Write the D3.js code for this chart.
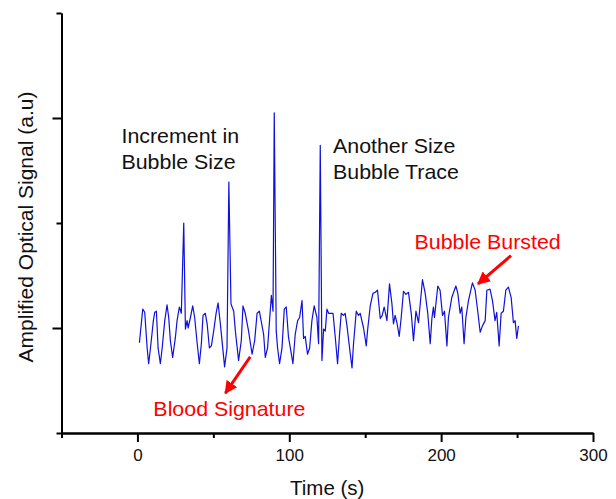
<!DOCTYPE html>
<html>
<head>
<meta charset="utf-8">
<script src="https://cdn.jsdelivr.net/npm/d3@7"></script>
<style>
  body { margin: 0; background: #fff; }
  text { font-family: Arial, "Liberation Sans", sans-serif; }
</style>
</head>
<body>
<div id="chart"></div>
<script>
// time (s)
const times = [1.3, 3.5, 4.8, 6.4, 7.4, 8.6, 10.5, 11.4, 12.5, 13.6, 15.1, 16.3, 18, 19.5, 20.6, 21.7, 23.2, 25, 26.1, 27.6,
  28.9, 30.5, 31.6, 32.7, 33.4, 34.9, 36.4, 37.7, 39.3, 40.8, 42.1, 43.2, 44.7, 45.9, 47.4, 48.7, 50.2, 51.8, 53.1, 54.6,
  55.7, 57.4, 59, 60.2, 61.6, 63.4, 64.5, 66.6, 68.4, 69.5, 71, 73.2, 75.5, 77.2, 78.8, 80.3, 83.1, 84.2, 85.7, 87,
  88.2, 89.3, 90.1, 91.4, 92.3, 93.6, 95.2, 96.7, 98, 99.5, 100.7, 102.4, 103.9, 105.5, 106.8, 108.4, 109.4, 110.5, 112, 113.4,
  114.9, 116.4, 118.2, 119.3, 120.4, 121.5, 122.6, 123.7, 124.8, 125.9, 127.4, 128.8, 130.3, 131.8, 133.1, 134.2, 135.7, 136.8, 138, 139.7,
  141.3, 142.3, 144.1, 145.6, 146.7, 148.9, 150.7, 151.5, 153.3, 155.1, 156.6, 158.1, 159.9, 161.2, 162.5, 164.3, 166, 167.6, 168.6, 169.7,
  170.9, 172.4, 173.7, 175.2, 176.8, 178.5, 180.3, 181.8, 183.4, 185.1, 187.7, 189.5, 191.2, 192.8, 193.9, 194.9, 195.6, 197.8, 199.3, 200.9,
  202.2, 203.8, 204.8, 207, 209.7, 211, 212.5, 213.6, 215.1, 216.3, 218, 220.6, 222.4, 224.1, 225.7, 227.2, 229, 230.1, 232.2, 233.8,
  235.5, 236.6, 238.2, 239.5, 241, 242.6, 244.3, 246.1, 247.6, 248.7, 249.8, 250.9]

// amplified optical signal (a.u)
const signal = [86, 118, 115, 81, 66, 81, 107, 115, 116, 81, 66, 81, 107, 122, 110, 88, 72, 91, 107, 120,
  114, 200, 99, 107, 100, 110, 121, 110, 86, 66, 85, 112, 114, 104, 81, 83, 97, 114, 124, 104,
  88, 63, 81, 239, 123, 116, 97, 69, 88, 121, 114, 97, 75, 88, 114, 116, 94, 72, 81, 107,
  131, 116, 305, 97, 81, 66, 81, 118, 120, 91, 81, 66, 94, 107, 110, 126, 90, 92, 75, 81,
  107, 121, 110, 85, 274, 69, 99, 97, 118, 114, 114, 114, 91, 66, 94, 114, 112, 114, 102, 81,
  62, 85, 116, 112, 114, 100, 83, 97, 121, 133, 134, 136, 109, 112, 120, 107, 142, 123, 104, 112,
  105, 92, 110, 135, 132, 134, 114, 88, 116, 105, 146, 133, 114, 85, 109, 120, 110, 140, 136, 112,
  116, 83, 110, 129, 140, 133, 114, 120, 85, 110, 126, 143, 136, 116, 96, 102, 107, 136, 137, 126,
  107, 115, 83, 114, 116, 136, 139, 129, 105, 107, 90, 102]

const xMajor = [0, 100, 200, 300]
const xMinor = [-50, 50, 150, 250]
const yMajor = [100, 300]
const yMinor = [0, 200, 400]

const width = 616
const height = 499
const margin = {left: 61.5, right: 23, top: 13, bottom: 66}

const svg = d3.select("#chart")
    .append("svg")
    .attr("width", width)
    .attr("height", height)

const x = d3.scaleLinear()
    .domain([-50, 300])
    .range([margin.left, width - margin.right])

const y = d3.scaleLinear()
    .domain([0, 400])
    .range([height - margin.bottom, margin.top])

// axes
const gx = svg.append("g")
    .attr("transform", `translate(0,${y(0)})`)

gx.append("g")
    .call(d3.axisBottom(x).tickValues(xMinor).tickSize(5).tickFormat("").tickSizeOuter(0))
gx.append("g")
    .call(d3.axisBottom(x).tickValues(xMajor).tickSize(9).tickPadding(7).tickSizeOuter(0))

const gy = svg.append("g")
    .attr("transform", `translate(${x(-50)},0)`)

gy.append("g")
    .call(d3.axisLeft(y).tickValues(yMinor).tickSize(5).tickFormat("").tickSizeOuter(0))
gy.append("g")
    .call(d3.axisLeft(y).tickValues(yMajor).tickSize(9).tickFormat("").tickSizeOuter(0))

svg.selectAll(".domain").attr("stroke", "#000").attr("stroke-width", 2)
svg.selectAll(".tick line").attr("stroke", "#000").attr("stroke-width", 2)
svg.selectAll(".tick text")
    .attr("font-size", 17)
    .attr("fill", "#111")
    .style("font-family", "Arial, 'Liberation Sans', sans-serif")

// axis titles
svg.append("text")
    .attr("x", (x(-50) + x(300)) / 2)
    .attr("y", 495)
    .attr("text-anchor", "middle")
    .attr("font-size", 20.5)
    .attr("fill", "#111")
    .text("Time (s)")

svg.append("text")
    .attr("transform", `translate(33,${(y(0) + y(400)) / 2 + 4}) rotate(-90)`)
    .attr("text-anchor", "middle")
    .attr("font-size", 21)
    .attr("fill", "#111")
    .text("Amplified Optical Signal (a.u)")

// trace
const line = d3.line()
    .x((d, i) => x(times[i]))
    .y(d => y(d))

svg.append("path")
    .datum(signal)
    .attr("fill", "none")
    .attr("stroke", "#1010dc")
    .attr("stroke-width", 1.2)
    .attr("stroke-linejoin", "round")
    .attr("d", line)

// annotations
const notes = [
    {t: -10.5, v: 276, lines: ["Increment in", "Bubble Size"], color: "#111"},
    {t: 128.8, v: 267, lines: ["Another Size", "Bubble Trace"], color: "#111"},
    {t: 182.5, v: 175, lines: ["Bubble Bursted"], color: "#f00"},
    {t: 10.5, v: 16, lines: ["Blood Signature"], color: "#f00"}
]

notes.forEach(n => {
    const txt = svg.append("text")
        .attr("transform", `translate(${x(n.t)},${y(n.v)}) scale(1.08,1)`)
        .attr("font-size", 19.8)
        .attr("fill", n.color)
    n.lines.forEach((s, i) => {
        txt.append("tspan").attr("x", 0).attr("dy", i ? 26 : 0).text(s)
    })
})

svg.append("defs").append("marker")
    .attr("id", "head")
    .attr("viewBox", "0 0 10 10")
    .attr("refX", 9)
    .attr("refY", 5)
    .attr("markerWidth", 4.3)
    .attr("markerHeight", 4.3)
    .attr("markerUnits", "strokeWidth")
    .attr("orient", "auto")
    .append("path")
    .attr("d", "M0,0 L10,5 L0,10 Z")
    .attr("fill", "#f00")

const arrows = [
    {t0: 246, v0: 169, t1: 224.3, v1: 142},
    {t0: 74.3, v0: 72.6, t1: 57.9, v1: 38}
]

svg.selectAll(".arrow")
    .data(arrows)
    .join("line")
    .attr("class", "arrow")
    .attr("x1", d => x(d.t0))
    .attr("y1", d => y(d.v0))
    .attr("x2", d => x(d.t1))
    .attr("y2", d => y(d.v1))
    .attr("stroke", "#f00")
    .attr("stroke-width", 3)
    .attr("marker-end", "url(#head)")
</script>
</body>
</html>
